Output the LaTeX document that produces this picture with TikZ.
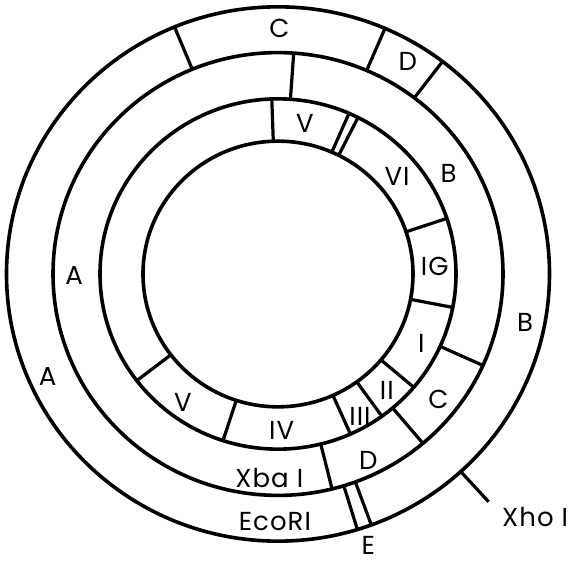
\documentclass[tikz,border=0pt]{standalone}
\usepackage{fontspec}
\setmainfont{Poppins}[LetterSpace=4]

\begin{document}
\begin{tikzpicture}[
        x=1pt, y=1pt,
        ring/.style={line width=3.6pt},
        cut/.style={line width=3.2pt},
        lbl/.style={font=\fontsize{26}{30}\selectfont, inner sep=0pt}
    ]
    \useasboundingbox (0,0) rectangle (568,564);

    \begin{scope}[shift={(278,290)}, yscale=0.984]
    \coordinate (O) at (0,0);

    % --- Circles ---
    \draw[ring] (O) circle (135);
    \draw[ring] (O) circle (178);
    \draw[ring] (O) circle (225);
    \draw[ring] (O) circle (271.5);

    % --- Outer ring: EcoRI ---
    \draw[cut] (112.4:225) -- (112.4:271.5);
    \draw[cut] (66.8:225) -- (66.8:271.5);
    \draw[cut] (52.7:225) -- (52.7:271.5);
    \draw[cut] (-69.9:225) -- (-69.9:271.5);
    \draw[cut] (-73:225) -- (-73:271.5);

    \node (outC) [lbl] at (89.7:250) {C};
    \node (outD) [lbl] at (59:252) {D};
    \node (outB) [lbl] at (-11.2:252) {B};
    \node (outA) [lbl] at (204.4:253) {A};
    \node (eco) [lbl] at (-90.7:252) {EcoRI};

    % --- Middle ring: Xba I ---
    \draw[cut] (86:178) -- (86:225);
    \draw[cut] (-24.4:178) -- (-24.4:225);
    \draw[cut] (-49.9:178) -- (-49.9:225);
    \draw[cut] (-76.1:178) -- (-76.1:225);

    \node (midB) [lbl] at (31:199) {B};
    \node (midC) [lbl] at (-38.5:205) {C};
    \node (midD) [lbl] at (-64.5:210) {D};
    \node (midA) [lbl] at (180.3:204) {A};
    \node (xba) [lbl] at (-92.4:208) {Xba I};

    % --- Inner ring ---
    \draw[cut] (92:135) -- (92:178);
    \draw[cut] (66.5:135) -- (66.5:178);
    \draw[cut] (63.3:135) -- (63.3:178);
    \draw[cut] (18.5:135) -- (18.5:178);
    \draw[cut] (-11:135) -- (-11:178);
    \draw[cut] (-40.3:135) -- (-40.3:178);
    \draw[cut] (-54.3:135) -- (-54.3:178);
    \draw[cut] (-66:135) -- (-66:178);
    \draw[cut] (252:135) -- (252:178);
    \draw[cut] (217.5:135) -- (217.5:178);

    \node (inV) [lbl] at (80:155) {V};
    \node (inVI) [lbl] at (39.8:155) {VI};
    \node (inIG) [lbl] at (2.7:157) {IG};
    \node (inI) [lbl] at (-26.3:160) {I};
    \node (inII) [lbl] at (-47.5:161) {II};
    \node (inIII) [lbl] at (-60.4:166) {III};
    \node (inIV) [lbl] at (-88.7:159) {IV};
    \node (inVb) [lbl] at (234:161.6) {V};

    % --- Xho I site ---
    \coordinate (xhoIn) at (-47.7:271.5);
    \coordinate (xhoOut) at (-47.7:313);
    \end{scope}

    \draw[cut] (xhoIn) -- (xhoOut);
    \node (xho) [lbl, anchor=west] at (502,47) {Xho I};
    \node (outE) [lbl, anchor=base] at (368.3,9) {E};
\end{tikzpicture}
\end{document}
